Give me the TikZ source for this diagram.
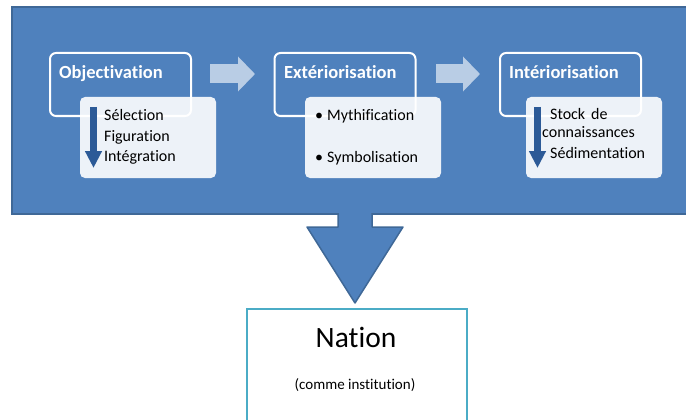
\documentclass[tikz,border=0pt]{standalone}
\usepackage{fontspec}
\setmainfont[Ligatures=NoCommon]{Carlito}
\usetikzlibrary{arrows.meta}
\definecolor{mainblue}{HTML}{4F81BD}
\definecolor{mainedge}{HTML}{3F6897}
\definecolor{paleblue}{HTML}{B9CDE5}
\definecolor{darkblue}{HTML}{2C5A97}
\definecolor{tealedge}{HTML}{4BACC6}

\begin{document}
\begin{tikzpicture}[x=1pt,y=-1pt,
		stagebox/.style={draw=white,line width=2pt,rounded corners=6pt,minimum width=141pt,minimum height=63pt,inner sep=0pt},
		subbox/.style={fill=white,fill opacity=0.9,rounded corners=5pt,minimum width=136pt,minimum height=81pt,inner sep=0pt},
		stagetitle/.style={anchor=base west,inner sep=0pt,text=white,font=\fontsize{18.5}{22}\selectfont\bfseries},
		entry/.style={anchor=base west,inner sep=0pt,font=\fontsize{16}{20}\selectfont},
		passarrow/.style={paleblue,line width=19pt,-{Triangle[length=17pt,width=34pt]}},
		sortarrow/.style={darkblue,line width=7pt,-{Triangle[length=17pt,width=16pt]}}]
		\useasboundingbox (0,0) rectangle (686,420);

		\node[fill=mainblue,draw=mainedge,line width=2pt,minimum width=686pt,minimum height=206pt] (main) at (355,110.5){};

		\coordinate (tip) at (355,303);
		\fill[mainblue] (338,205) -- (338,227) -- (307,227) -- (tip) -- (403,227) -- (372,227) -- (372,205) -- cycle;
		\draw[mainedge,line width=1.5pt,line join=round] (338,213) -- (338,227) -- (307,227) -- (tip) -- (403,227) -- (372,227) -- (372,213);

		\node[fill=white,draw=tealedge,line width=2.5pt,minimum width=220pt,minimum height=121pt] (nation) at (357,369.5){};
		\node[inner sep=0pt,anchor=base,font=\fontsize{29.5}{34}\selectfont] (nat) at (356,347){Nation};
		\node[inner sep=0pt,anchor=base,font=\fontsize{15}{18}\selectfont] (inst) at (355,389){(comme institution)};

		\node[stagebox] (obj) at (120.5,84.5){};
		\node[stagebox] (ext) at (345,84.5){};
		\node[stagebox] (int) at (570.5,84.5){};

		\node[subbox] (objs) at (148,137.5){};
		\node[subbox] (exts) at (373,137.5){};
		\node[subbox] (ints) at (594,137.5){};

		\coordinate (p1) at (210,74);
		\coordinate (p2) at (255,74);
		\coordinate (p3) at (436,74);
		\coordinate (p4) at (480,74);
		\draw[passarrow] (p1) -- (p2);
		\draw[passarrow] (p3) -- (p4);

		\coordinate (d1) at (93.5,107);
		\coordinate (d2) at (93.5,168);
		\coordinate (d3) at (537.5,107);
		\coordinate (d4) at (537.5,168);
		\draw[sortarrow] (d1) -- (d2);
		\draw[sortarrow] (d3) -- (d4);

		\node[stagetitle] (objt) at (59,79){Objectivation};
		\node[stagetitle] (extt) at (284,79){Extériorisation};
		\node[stagetitle] (intt) at (509,79){Intériorisation};

		\node[entry] (sel) at (104,121){Sélection};
		\node[entry] (fig) at (104,141){Figuration};
		\node[entry] (integ) at (104,161){Intégration};

		\node[entry] (myth) at (315,121){\textbullet\hspace{4pt}Mythification};
		\node[entry] (symb) at (315,162){\textbullet\hspace{4pt}Symbolisation};

		\node[entry] (stock) at (550,120){Stock\hspace{6pt}de};
		\node[entry] (conn) at (542,137){connaissances};
		\node[entry] (sedim) at (550,158){Sédimentation};

	\end{tikzpicture}
\end{document}
